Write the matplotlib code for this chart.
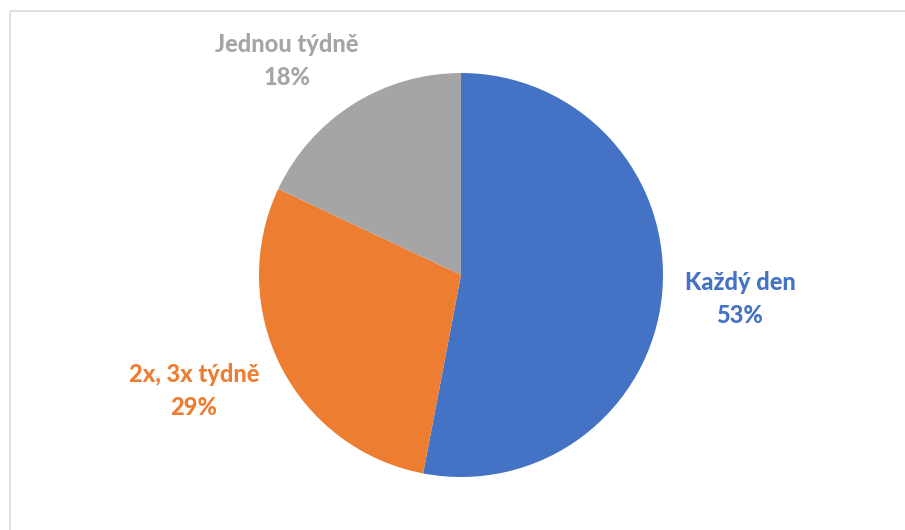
import matplotlib.pyplot as plt
from matplotlib.patches import Rectangle

plt.rcParams['font.family'] = ['Lato', 'DejaVu Sans']

labels = ['Každý den', '2x, 3x týdně', 'Jednou týdně']
values = [53, 29, 18]
colors = ['#4472C4', '#ED7D31', '#A5A5A5']
# label centres in pixel coords (x, y from top)
label_pos = [(740, 299), (194, 391), (287, 61)]

W, H = 905, 530
fig = plt.figure(figsize=(W / 100, H / 100), dpi=100)
ax = fig.add_axes([0, 0, 1, 1])

# y axis points down, so start at -90 and go "counterclock" to look clockwise
wedges, _ = ax.pie(values, colors=colors, startangle=-90, counterclock=True,
                   center=(461, 275), radius=202, frame=True,
                   wedgeprops=dict(linewidth=0))
ax.set_xlim(0, W)
ax.set_ylim(H, 0)
ax.set_aspect('auto')
ax.axis('off')

# chart frame
ax.add_patch(Rectangle((9.5, 10.5), 920, 560, fill=False, edgecolor='#D9D9D9', lw=1.2))

for lab, v, c, (x, y) in zip(labels, values, colors, label_pos):
    ax.text(x, y, f'{lab}\n{v}%', color=c, fontsize=17, fontweight='black',
            ha='center', va='center', linespacing=1.55)

fig.savefig('out.png', dpi=100)
